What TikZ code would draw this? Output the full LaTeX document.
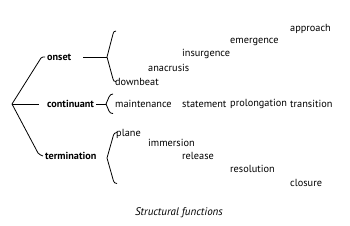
\documentclass[tikz,border=0pt]{standalone}
\usepackage{fontspec}
\setmainfont{PT Sans}
\begin{document}
\begin{tikzpicture}[x=1pt,y=-1pt,
  lbl/.style={anchor=west,inner sep=0pt,font=\fontsize{10.3}{12}\selectfont},
  head/.style={lbl,font=\fontsize{10.2}{12}\selectfont\bfseries},
  ln/.style={draw,line width=0.8pt,line join=round}]
\useasboundingbox[fill=white] (0,0) rectangle (350,225);
\coordinate (root) at (12,104);
% heads
\node[head] (onset) at (47,57) {onset};
\node[head] (cont) at (47,104) {continuant};
\node[head] (term) at (45,156) {termination};
% onset items
\node[lbl] (downbeat) at (115,82) {downbeat};
\node[lbl] (anacrusis) at (148,68) {anacrusis};
\node[lbl] (insurgence) at (182,54) {insurgence};
\node[lbl] (emergence) at (230,42) {emergence};
\node[lbl] (approach) at (290,29) {approach};
% continuant items
\node[lbl] (maint) at (115,104) {maintenance};
\node[lbl] (statement) at (182,104) {statement};
\node[lbl] (prolong) at (230,104) {prolongation};
\node[lbl] (transition) at (290,104) {transition};
% termination items
\node[lbl] (plane) at (116,134) {plane};
\node[lbl] (immersion) at (148,143) {immersion};
\node[lbl] (release) at (182,156) {release};
\node[lbl] (resolution) at (230,169) {resolution};
\node[lbl] (closure) at (290,183) {closure};
% caption
\node[inner sep=0pt,font=\fontsize{11}{12}\selectfont\itshape] (caption) at (179,213) {Structural functions};
% tree
\coordinate (otip) at (107,57);
\coordinate (ctip) at (106,104);
\coordinate (ttip) at (107,158);
\path[ln] ([xshift=-2pt]onset.west) -- ++(-2,0) .. controls +(-1,0) and +(0.6,-1) .. (41,58) -- (root);
\path[ln] (root) -- (38,153) .. controls +(0.6,1) and +(-1,0) .. ([xshift=-2pt]term.west);
\path[ln] (root) -- ([xshift=-8pt]cont.west);
\path[ln] ([xshift=12pt]onset.east) -- (otip);
\path[ln] ([xshift=2pt]cont.east) -- (ctip);
% braces
\path[ln] (116,31) .. controls (114,31) and (113.5,32) .. (113,34) -- (otip) -- (113,79) .. controls (113.5,81) and (114,81.5) .. (116,81.5);
\path[ln] (113,94) .. controls (111,94) and (110,95) .. (109,97) -- (ctip) -- (109,111) .. controls (110,113) and (111,113.5) .. (113,113.5);
\path[ln] (117,132.5) .. controls (115,132.5) and (114,133.5) .. (113.5,135) -- (ttip) -- (113.5,181) .. controls (114,182.5) and (115,183.5) .. (117,183.5);
\end{tikzpicture}
\end{document}
